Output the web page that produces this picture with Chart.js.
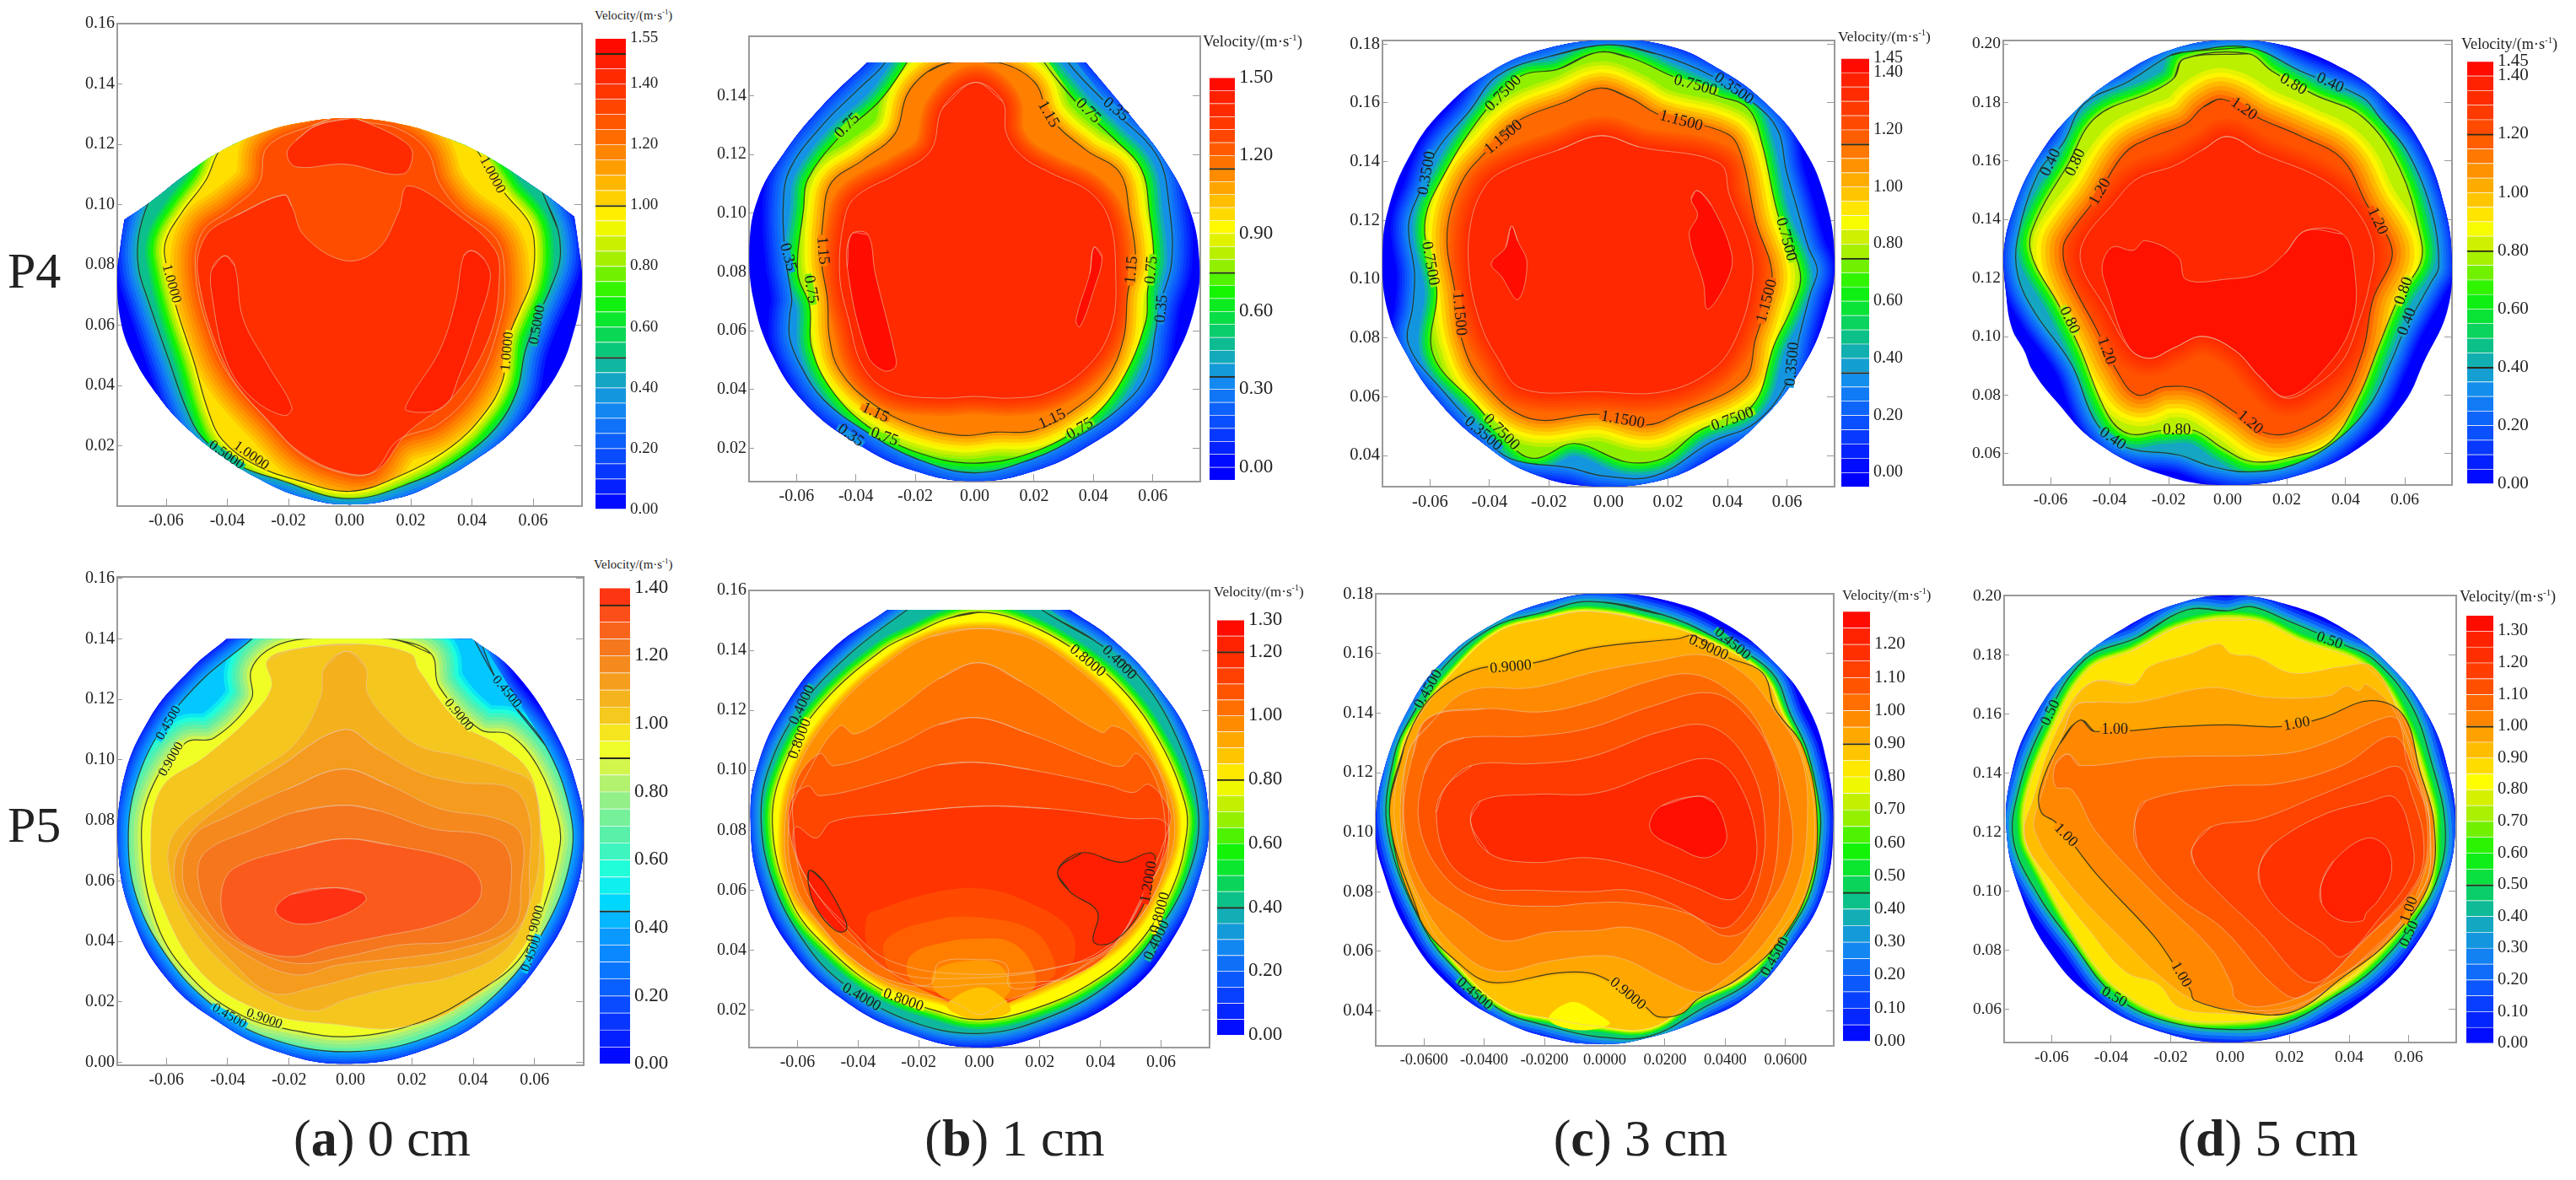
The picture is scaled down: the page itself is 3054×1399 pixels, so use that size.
<!DOCTYPE html>
<html>
<head>
<meta charset="utf-8">
<title>Velocity contours</title>
<script src="https://cdn.jsdelivr.net/npm/chart.js@4/dist/chart.umd.js"></script>
<style>
  body { margin: 0; background: #fff; width: 3054px; height: 1399px; overflow: hidden; position: relative; font-family: "Liberation Serif", serif; color: #222; }
  canvas { position: absolute; }
  .txt { position: absolute; white-space: nowrap; line-height: 1; }
</style>
</head>
<body>
<script>
// shared tick lists
const xTicks = [-0.06, -0.04, -0.02, 0, 0.02, 0.04, 0.06];
const yTicks016 = [0.02, 0.04, 0.06, 0.08, 0.10, 0.12, 0.14, 0.16];
const yTicks014 = [0.02, 0.04, 0.06, 0.08, 0.10, 0.12, 0.14];
const yTicks018 = [0.04, 0.06, 0.08, 0.10, 0.12, 0.14, 0.16, 0.18];
const yTicks020 = [0.06, 0.08, 0.10, 0.12, 0.14, 0.16, 0.18, 0.20];
const yTicks000 = [0, 0.02, 0.04, 0.06, 0.08, 0.10, 0.12, 0.14, 0.16];

// ---- (a) P4, 0 cm
const a4_edge = [[0,.1285],[.016,.1268],[.029,.123],[.043,.117],[.0627,.1043],[.0735,.096],[.0735,.096],[.0748,.087],[.076,.0765],[.0755,.0677],[.073,.0568],[.0695,.047],[.0627,.036],[.0534,.025],[.0427,.0164],[.0293,.0082],[.016,.0027],[0,.0005],[-.0148,.0027],[-.0282,.0082],[-.0416,.0164],[-.0536,.0262],[-.063,.037],[-.071,.05],[-.075,.062],[-.076,.0765],[-.075,.086],[-.0737,.095],[-.0737,.095],[-.065,.101],[-.0536,.11],[-.0416,.118],[-.028,.124],[-.0148,.1273]];
const a4_c050 = [[.0634,.1032],[.0681,.0918],[.0688,.0819],[.0661,.0732],[.0614,.0623],[.0574,.0513],[.0547,.0382],[.048,.0262],[.036,.0158],[.0226,.0087],[0,.0025],[-.0229,.0087],[-.0376,.0142],[-.0483,.0229],[-.0536,.0328],[-.059,.0481],[-.0657,.0677],[-.069,.0787],[-.069,.0896],[-.0657,.101],[-.055,.125],[0,.14],[.055,.125]];
const a4_c100 = [[.0427,.1163],[.0507,.1038],[.0587,.094],[.0605,.0852],[.0594,.0743],[.0554,.0645],[.052,.0557],[.05,.0415],[.044,.0306],[.0333,.0197],[.0159,.0098],[0,.0049],[-.0175,.0087],[-.0309,.0137],[-.0416,.0219],[-.0463,.0317],[-.051,.0481],[-.0563,.0645],[-.0597,.0787],[-.0603,.0874],[-.055,.0972],[-.047,.1081],[-.0429,.1174],[-.03,.135],[0,.14],[.03,.135]];
const a4_c130 = [[0,.13],[.0039,.1278],[.0159,.1251],[.0253,.118],[.0293,.1071],[.036,.0983],[.048,.0885],[.0507,.0765],[.0494,.0623],[.0413,.0404],[.0293,.0273],[.0159,.0219],[.0079,.0115],[0,.0104],[-.0148,.0164],[-.0256,.0273],[-.0389,.0426],[-.0456,.0568],[-.0503,.0765],[-.0483,.0907],[-.0389,.0983],[-.0296,.1071],[-.0269,.1191],[-.0122,.1262]];
const a4_c140 = [[-.0215,.1032],[-.0189,.0994],[-.0148,.0896],[-.0015,.0814],[.0092,.0852],[.0159,.0972],[.0193,.1062],[.036,.0961],[.0474,.0852],[.049,.0765],[.046,.0568],[.0346,.0371],[.0186,.024],[.0092,.012],[0,.0107],[-.0148,.0169],[-.0269,.0284],[-.0403,.0459],[-.0496,.0765],[-.047,.0896],[-.0376,.0961]];
const a4_topIsland = [[-.0108,.1262],[-.0175,.1213],[-.0205,.1169],[-.0175,.1125],[-.0015,.1134],[.0173,.1101],[.0206,.1169],[.0173,.1213],[.0052,.1273],[0,.1285]];
const a4_leftWing = [[-.0409,.083],[-.0376,.0797],[-.0349,.0623],[-.0269,.047],[-.0189,.0328],[-.0215,.03],[-.0322,.0361],[-.0403,.0481],[-.045,.0699],[-.045,.0787]];
const a4_rightWing = [[.04,.0847],[.044,.0819],[.046,.0754],[.0413,.059],[.036,.0437],[.0306,.0328],[.0186,.0317],[.0199,.0361],[.0293,.0513],[.0346,.0677],[.0373,.083]];
const a4_labels = [[.0467,.1098,62,'1.0000'],[-.0583,.0737,75,'1.0000'],[.0614,.0601,-80,'0.5000'],[.0516,.0513,-85,'1.0000'],[-.0403,.0169,35,'0.5000'],[-.0322,.0167,35,'1.0000']];
const a4_levels = [0,.05,.1,.15,.2,.25,.3,.35,.4,.45,.5,.55,.6,.65,.7,.75,.8,.85,.9,.95,1,1.05,1.1,1.15,1.2,1.25,1.3,1.35,1.4,1.45,1.5,1.55];
const a4_barTicks = [0,.2,.4,.6,.8,1,1.2,1.4,1.55];
const a4_barLines = [.5,1,1.5];

// ---- (b) P4, 1 cm
const b4_edge = [[-.0362,.1513],[-.0362,.1513],[.0375,.1513],[.0375,.1513],[.052,.1337],[.064,.118],[.0723,.1017],[.0757,.084],[.0743,.0686],[.067,.0498],[.0562,.0343],[.0388,.0211],[.0201,.0123],[0,.0089],[-.0201,.0123],[-.0388,.0211],[-.0562,.0343],[-.0683,.052],[-.075,.073],[-.0759,.0884],[-.073,.105],[-.0643,.1204],[-.0509,.137]];
const b4_c035 = [[.0315,.1513],[.0469,.1348],[.0616,.1193],[.0656,.1017],[.0663,.0829],[.0623,.0686],[.0609,.0597],[.0576,.0443],[.0482,.0332],[.0335,.0233],[.0201,.0167],[0,.0117],[-.0201,.0167],[-.0362,.0255],[-.0509,.0366],[-.0589,.0487],[-.0623,.0575],[-.0623,.0653],[-.0616,.0708],[-.0636,.084],[-.0645,.1017],[-.0623,.1149],[-.0509,.1304],[-.0388,.1425],[-.0301,.1513],[-.02,.17],[.02,.17]];
const b4_c075 = [[.0234,.1513],[.0348,.137],[.0469,.1254],[.0562,.1149],[.0589,.0995],[.0603,.084],[.0583,.0741],[.0576,.063],[.0496,.0432],[.0388,.0299],[.0214,.0194],[0,.015],[-.0201,.0189],[-.0362,.0277],[-.0482,.0399],[-.0549,.0542],[-.0556,.0686],[-.0596,.0796],[-.0576,.1017],[-.0562,.1116],[-.0455,.126],[-.0321,.1381],[-.0228,.1513],[-.012,.17],[.012,.17]];
const b4_c115 = [[-.008,.1513],[.008,.1513],[.0201,.1447],[.0254,.1326],[.0375,.1215],[.0489,.1138],[.0522,.0995],[.0542,.084],[.0516,.073],[.0502,.0575],[.0442,.0432],[.0335,.0332],[.0201,.0261],[.0067,.0255],[-.004,.0244],[-.0201,.0277],[-.0348,.0355],[-.0455,.0465],[-.0489,.0575],[-.0496,.0708],[-.0516,.084],[-.0509,.0995],[-.0482,.1105],[-.0375,.1182],[-.0268,.1271],[-.0228,.1403],[-.0161,.148]];
const b4_c135 = [[0,.1445],[.0094,.1381],[.0107,.1271],[.0161,.1193],[.0254,.1138],[.0388,.1072],[.0455,.0973],[.0475,.0796],[.0462,.0619],[.0388,.0487],[.0254,.0393],[.0121,.0371],[0,.0377],[-.0121,.0371],[-.0281,.0393],[-.0375,.0476],[-.0422,.063],[-.0455,.0796],[-.0435,.0995],[-.0395,.1061],[-.0254,.1138],[-.0147,.1215],[-.0107,.1359]];
const b4_leftIsland = [[-.0415,.0928],[-.036,.0928],[-.0335,.0796],[-.0268,.052],[-.0268,.0476],[-.0308,.0465],[-.0362,.052],[-.0429,.0818]];
const b4_rightIsland = [[.0402,.0884],[.0429,.0851],[.0402,.0741],[.0355,.0614],[.0341,.0636],[.0388,.0796]];
const b4_labels = [[-.0429,.1298,-45,'0.75'],[.0248,.1337,60,'1.15'],[.0382,.1348,45,'0.75'],[.0475,.1353,40,'0.35'],[-.0629,.0851,75,'0.35'],[-.0512,.0873,85,'1.15'],[-.0552,.0741,80,'0.75'],[.0529,.0807,-85,'1.15'],[.0596,.0807,-85,'0.75'],[.063,.0675,-85,'0.35'],[-.0335,.0321,25,'1.15'],[-.0304,.0239,20,'0.75'],[-.0418,.0244,35,'0.35'],[.0261,.0299,-25,'1.15'],[.0355,.0266,-30,'0.75']];
const b4_levels = [-.05,0,.05,.1,.15,.2,.25,.3,.35,.4,.45,.5,.55,.6,.65,.7,.75,.8,.85,.9,.95,1,1.05,1.1,1.15,1.2,1.25,1.3,1.35,1.4,1.45,1.5];
const b4_barTicks = [0,.3,.6,.9,1.2,1.5];
const b4_barLines = [.35,.75,1.15];

// ---- (c) P4, 3 cm
const c4_edge = [[0,.1813],[.021,.1791],[.0373,.1714],[.0523,.1604],[.0645,.1461],[.0726,.1284],[.076,.1064],[.0733,.0887],[.0645,.0689],[.0495,.0501],[.0346,.0391],[.017,.0314],[-.0034,.0294],[-.0251,.0336],[-.0428,.0446],[-.0577,.059],[-.0685,.0755],[-.0747,.0909],[-.076,.1064],[-.074,.124],[-.0658,.1439],[-.055,.1582],[-.04,.1703],[-.0224,.178]];
const c4_c035 = [[0,.1797],[.017,.1764],[.0346,.1692],[.0495,.1593],[.057,.1505],[.0597,.1372],[.0631,.1251],[.0672,.1108],[.0702,.1031],[.0679,.0953],[.0645,.0821],[.0604,.0656],[.0495,.0512],[.0346,.0446],[.0156,.0331],[-.002,.0331],[-.0129,.0358],[-.0333,.0391],[-.0428,.0479],[-.055,.0612],[-.0672,.0777],[-.0658,.0909],[-.0652,.102],[-.0672,.1185],[-.0631,.1306],[-.0577,.1439],[-.0468,.1571],[-.0373,.1692],[-.0197,.1758]];
const c4_c075 = [[-.0034,.1772],[.0075,.1753],[.021,.1692],[.036,.1626],[.0468,.1582],[.0516,.1461],[.057,.1218],[.0645,.102],[.0618,.0909],[.0557,.0777],[.0482,.0568],[.0305,.0485],[.0183,.0391],[.0061,.0378],[-.0115,.0441],[-.0238,.0391],[-.0305,.0413],[-.0441,.0568],[-.059,.0744],[-.0577,.0964],[-.0618,.1185],[-.055,.1361],[-.0407,.1582],[-.0292,.1692],[-.017,.1714]];
const c4_c115 = [[-.0027,.165],[.0075,.1615],[.017,.156],[.04,.1494],[.0448,.1417],[.0495,.1196],[.055,.102],[.0523,.0887],[.0495,.0799],[.0455,.0656],[.0238,.0546],[.0129,.0504],[-.0034,.054],[-.0265,.0526],[-.0428,.0656],[-.0495,.0799],[-.0516,.0953],[-.0543,.1152],[-.0495,.1328],[-.0407,.1439],[-.0305,.1538],[-.0143,.1604]];
const c4_c135 = [[-.0027,.1488],[.0102,.145],[.0373,.1394],[.0407,.1284],[.0475,.1108],[.0482,.0987],[.0428,.0799],[.0346,.0689],[.0183,.0617],[-.0034,.0617],[-.0292,.0628],[-.0373,.0733],[-.0428,.0843],[-.0468,.102],[-.0462,.1196],[-.0414,.1317],[-.0346,.1372],[-.017,.1439]];
const c4_leftIsland = [[-.0326,.118],[-.0305,.113],[-.0274,.1053],[-.0305,.0931],[-.036,.1009],[-.0394,.1053],[-.0346,.1108]];
const c4_rightIsland = [[.0299,.1301],[.0346,.1251],[.0414,.1086],[.04,.0998],[.0333,.0898],[.0319,.0987],[.0271,.1152],[.0299,.1218],[.0278,.1273]];
const c4_labels = [[-.0353,.1632,-45,'0.7500'],[-.0611,.1361,-80,'0.3500'],[.0292,.1659,15,'0.7500'],[.0421,.1648,35,'0.3500'],[-.0353,.1483,-40,'1.1500'],[.0244,.1538,15,'1.1500'],[.0597,.1135,75,'0.7500'],[-.06,.1053,80,'0.7500'],[-.0502,.0882,85,'1.1500'],[.0533,.0926,-75,'1.1500'],[.0618,.0711,-85,'0.3500'],[.0048,.0521,10,'1.1500'],[.0417,.0523,-20,'0.7500'],[-.036,.0479,45,'0.7500'],[-.0421,.0474,40,'0.3500']];
const c4_levels = [-.05,0,.05,.1,.15,.2,.25,.3,.35,.4,.45,.5,.55,.6,.65,.7,.75,.8,.85,.9,.95,1,1.05,1.1,1.15,1.2,1.25,1.3,1.35,1.4,1.45];
const c4_barTicks = [0,.2,.4,.6,.8,1,1.2,1.4,1.45];
const c4_barLines = [.35,.75,1.15];

// ---- (d) P4, 5 cm
const d4_edge = [[0,.2013],[.0194,.1995],[.0389,.1917],[.0528,.1817],[.0653,.1662],[.0736,.144],[.076,.124],[.0743,.1084],[.0667,.0918],[.0597,.0773],[.0458,.0629],[.025,.0529],[0,.0493],[-.0223,.0529],[-.0446,.064],[-.0585,.0784],[-.0661,.0884],[-.0689,.0951],[-.0731,.1029],[-.0751,.1151],[-.0759,.1284],[-.0724,.144],[-.064,.1617],[-.0515,.1773],[-.0362,.1895],[-.0181,.1984]];
const d4_c040 = [[-.014,.1973],[.0069,.1989],[.025,.1906],[.0458,.1817],[.0514,.175],[.0611,.1628],[.0694,.1417],[.0715,.124],[.0688,.1184],[.0597,.1018],[.0555,.0918],[.0486,.0773],[.0375,.0651],[.0222,.0562],[.0069,.0538],[-.0056,.0557],[-.0168,.0596],[-.0348,.0623],[-.0446,.0707],[-.0529,.0906],[-.0654,.1084],[-.071,.1206],[-.0713,.1329],[-.064,.1562],[-.0557,.1662],[-.0487,.1795],[-.0334,.1873],[-.0195,.1961]];
const d4_c080 = [[-.0147,.195],[.0069,.1967],[.0152,.1906],[.0291,.1828],[.0458,.175],[.0583,.1573],[.0653,.134],[.0653,.1251],[.0583,.114],[.0514,.0973],[.0444,.0795],[.0347,.064],[.0222,.059],[.0083,.0573],[-.0015,.0618],[-.0112,.0679],[-.0223,.0679],[-.0334,.0668],[-.0404,.0729],[-.0501,.0962],[-.0571,.1106],[-.0668,.1295],[-.064,.1417],[-.0543,.1584],[-.0446,.175],[-.0251,.1839],[-.0181,.1884]];
const d4_c120 = [[-.0015,.1811],[.011,.1745],[.025,.1684],[.0389,.1606],[.0472,.1451],[.0548,.1328],[.0555,.1262],[.0493,.1129],[.0458,.0951],[.0375,.0773],[.025,.0684],[.0138,.0668],[.0027,.074],[-.0098,.0818],[-.0209,.0829],[-.0307,.0801],[-.0376,.0884],[-.0446,.1029],[-.0543,.1217],[-.0557,.1306],[-.0529,.1362],[-.0446,.1473],[-.0348,.1628],[-.0251,.1684],[-.014,.1728],[-.0084,.1784]];
const d4_c133 = [[0,.1684],[.011,.1628],[.0319,.1539],[.043,.144],[.0493,.1306],[.0479,.1173],[.0444,.1051],[.0389,.0918],[.0291,.0829],[.0194,.079],[.011,.0862],[.0027,.0951],[-.0084,.1001],[-.0181,.0962],[-.0265,.0926],[-.0334,.0962],[-.0418,.1106],[-.0494,.124],[-.0487,.1329],[-.039,.1451],[-.0307,.1539],[-.0181,.1584],[-.0084,.1639]];
const d4_c140 = [[.0264,.1362],[.0389,.1351],[.043,.1229],[.0423,.1051],[.0333,.0895],[.0201,.0795],[.011,.0862],[.0027,.0951],[-.0084,.1001],[-.0181,.0962],[-.0265,.0926],[-.0334,.0962],[-.0404,.1151],[-.0425,.124],[-.039,.1306],[-.032,.1295],[-.0279,.1328],[-.0168,.1273],[-.014,.1195],[0,.1197],[.011,.1217],[.0194,.1284]];
const d4_labels = [[.0222,.1862,30,'0.80'],[.0347,.1867,25,'0.40'],[.0055,.1778,35,'1.20'],[-.0599,.1595,-65,'0.40'],[-.0515,.1595,-65,'0.80'],[-.0432,.1495,-60,'1.20'],[.0507,.1395,65,'1.20'],[.0597,.1156,-70,'0.80'],[.0608,.1051,-70,'0.40'],[-.0536,.1056,65,'0.80'],[-.0411,.0951,70,'1.20'],[.0076,.0707,40,'1.20'],[-.0172,.0679,0,'0.80'],[-.039,.0651,35,'0.40']];
const d4_levels = [0,.05,.1,.15,.2,.25,.3,.35,.4,.45,.5,.55,.6,.65,.7,.75,.8,.85,.9,.95,1,1.05,1.1,1.15,1.2,1.25,1.3,1.35,1.4,1.45];
const d4_barTicks = [0,.2,.4,.6,.8,1,1.2,1.4,1.45];
const d4_barLines = [.4,.8,1.2];

// ---- (a) P5, 0 cm
const a5_edge = [[-.0404,.14],[-.0404,.14],[.0396,.14],[.0396,.14],[.0529,.1296],[.0663,.11],[.0743,.0893],[.076,.0741],[.0729,.0545],[.0623,.0338],[.0463,.0163],[.0249,.0044],[0,-.0005],[-.0231,.0033],[-.0444,.0142],[-.0604,.0283],[-.0711,.0479],[-.0757,.0697],[-.0744,.0915],[-.0657,.1133],[-.0524,.1296]];
const a5_c045 = [[.0489,.1242],[.0636,.1046],[.0716,.0828],[.0716,.0664],[.0636,.0447],[.0489,.024],[.0289,.0098],[0,.0035],[-.0284,.0087],[-.0471,.0207],[-.0604,.0359],[-.0697,.0545],[-.0724,.0741],[-.0697,.0926],[-.0617,.11],[-.0484,.1264],[-.0324,.1397],[-.01,.16],[.03,.16]];
const a5_c090 = [[.0149,.1397],[.0263,.1351],[.0289,.1242],[.0423,.11],[.0516,.1084],[.0609,.098],[.0676,.0806],[.0683,.0719],[.0636,.0534],[.0556,.0349],[.0409,.0229],[.0223,.0131],[0,.0085],[-.0204,.0109],[-.0351,.0153],[-.0511,.0272],[-.0631,.0458],[-.0681,.0741],[-.0644,.0915],[-.0537,.1057],[-.0444,.1073],[-.0324,.1198],[-.0324,.1296],[-.0271,.1362],[-.0177,.1397],[0,.1405]];
const a5_c100 = [[-.0177,.1367],[-.0271,.1329],[-.0257,.1242],[-.0324,.1144],[-.0471,.1013],[-.0617,.0904],[-.0651,.0697],[-.0624,.0545],[-.0484,.0294],[-.0271,.0163],[-.0044,.0125],[.0156,.0114],[.0356,.0185],[.0556,.037],[.0629,.0588],[.0616,.0806],[.0583,.0959],[.0489,.1046],[.0356,.1122],[.0223,.1296],[.0196,.1351],[.0023,.1383]];
const a5_c105 = [[-.0011,.1359],[.0049,.1307],[.0056,.122],[.0129,.1122],[.0223,.1046],[.0356,.1013],[.0503,.097],[.0596,.0915],[.0616,.0697],[.0583,.0523],[.0503,.037],[.0329,.0283],[.0156,.0251],[-.0017,.0207],[-.0124,.0169],[-.0271,.0218],[-.0417,.0327],[-.0537,.0479],[-.0591,.0632],[-.0577,.0752],[-.0444,.0871],[-.0311,.0959],[-.0177,.1057],[-.0097,.1209],[-.0084,.1307]];
const a5_c110 = [[-.0024,.11],[.0089,.1035],[.0223,.0959],[.0356,.0926],[.0529,.0904],[.0583,.0806],[.0583,.0643],[.0569,.0479],[.0463,.0381],[.0289,.0327],[.0089,.03],[-.011,.025],[-.0257,.0229],[-.0391,.0338],[-.0511,.0479],[-.0571,.0588],[-.0551,.0719],[-.0404,.0861],[-.0244,.097]];
const a5_c115 = [[-.0024,.097],[.0129,.0915],[.0289,.0839],[.0476,.0806],[.0556,.0752],[.0556,.0588],[.0529,.0447],[.0356,.0376],[.0196,.0349],[-.0044,.0321],[-.0177,.0289],[-.0337,.0354],[-.0471,.0468],[-.0544,.0588],[-.0517,.0741],[-.0391,.0817],[-.0204,.0904]];
const a5_c120 = [[-.0024,.085],[.0089,.0833],[.0263,.0773],[.0436,.0752],[.0509,.0708],[.0523,.0588],[.0489,.0468],[.0356,.0403],[.0156,.0387],[-.0017,.0349],[-.0177,.0327],[-.0337,.0381],[-.0444,.0468],[-.0497,.061],[-.0471,.0697],[-.0311,.0773],[-.0177,.0828]];
const a5_c127 = [[-.0024,.0739],[.0129,.0719],[.0356,.0664],[.0423,.0599],[.0409,.0523],[.0289,.0458],[.0089,.0414],[-.0071,.0381],[-.0191,.0349],[-.0324,.0381],[-.0404,.0458],[-.042,.0566],[-.0377,.0643],[-.0177,.0708]];
const a5_c134 = [[-.0057,.0577],[.0036,.0561],[.0049,.0534],[-.0044,.0479],[-.0177,.0458],[-.0244,.0501],[-.0191,.0556]];
const a5_labels = [[-.0593,.1122,-60,'0.4500'],[-.0584,.1002,-60,'0.9000'],[.0509,.1225,50,'0.4500'],[.0353,.1149,50,'0.9000'],[.0603,.0458,-75,'0.9000'],[.0589,.0359,-70,'0.4500'],[-.0395,.0153,30,'0.4500'],[-.0281,.0144,20,'0.9000']];
const a5_levels = [0,.05,.1,.15,.2,.25,.3,.35,.4,.45,.5,.55,.6,.65,.7,.75,.8,.85,.9,.95,1,1.05,1.1,1.15,1.2,1.25,1.3,1.35,1.4];
const a5_barTicks = [0,.2,.4,.6,.8,1,1.2,1.4];
const a5_barLines = [.45,.9,1.35];

// ---- (b) P5, 1 cm
const b5_edge = [[-.0304,.1535],[-.0304,.1535],[.0299,.1535],[.0299,.1535],[.0442,.1435],[.0586,.1283],[.0704,.1088],[.0757,.085],[.0731,.0655],[.0626,.0417],[.0469,.0243],[.0233,.0124],[0,.0075],[-.0238,.0124],[-.0461,.0243],[-.0631,.0417],[-.0723,.0612],[-.0755,.0828],[-.0729,.1023],[-.0631,.1229],[-.0487,.1403]];
const b5_c040 = [[.0207,.1535],[.0377,.1435],[.0534,.1305],[.0665,.1078],[.0724,.085],[.0691,.0655],[.0586,.046],[.0442,.0298],[.0233,.0178],[0,.0122],[-.0238,.0167],[-.0461,.0298],[-.0592,.0449],[-.0683,.0633],[-.072,.0828],[-.0696,.1002],[-.0592,.1208],[-.0435,.1381],[-.0238,.1535],[0,.17]];
const b5_c080 = [[-.0107,.1505],[0,.1527],[.0115,.1505],[.0298,.1413],[.0469,.1273],[.0599,.1088],[.0678,.0893],[.0685,.0796],[.0639,.0612],[.0521,.0417],[.0364,.0287],[.0168,.02],[0,.0168],[-.0134,.0195],[-.0317,.0265],[-.0487,.0395],[-.0618,.0558],[-.0683,.0828],[-.0631,.1045],[-.0513,.1229],[-.0317,.1403],[-.0212,.1457]];
const b5_c095 = [[0,.1473],[.0141,.1451],[.0298,.1359],[.0482,.1186],[.0613,.0958],[.0645,.0807],[.0613,.0666],[.0495,.046],[.0338,.0341],[.0181,.0265],[.0076,.0225],[0,.0185],[-.0081,.0225],[-.0291,.0287],[-.0421,.0373],[-.0526,.0482],[-.0618,.0612],[-.0641,.0828],[-.0592,.1023],[-.0461,.1218],[-.0291,.137],[-.016,.1446]];
const b5_c100 = [[0,.1359],[.0141,.1294],[.0403,.1126],[.0442,.1148],[.0508,.111],[.0599,.098],[.0626,.0828],[.0606,.0655],[.0508,.0482],[.0364,.0363],[.0233,.0292],[.0102,.0276],[.0089,.0352],[0,.0368],[-.0134,.0357],[-.016,.0287],[-.0291,.0298],[-.0421,.0373],[-.0513,.0471],[-.0605,.0612],[-.0628,.0828],[-.0566,.0991],[-.0461,.1148],[-.0408,.1121],[-.0264,.1208],[-.0134,.1305]];
const b5_c105 = [[0,.1175],[.0168,.1121],[.0416,.1023],[.0475,.1015],[.0521,.1056],[.0586,.0958],[.0613,.0828],[.0606,.072],[.056,.0612],[.0429,.0395],[.0298,.0308],[.0233,.0297],[0,.0287],[-.0212,.0287],[-.0395,.0406],[-.0501,.0493],[-.0579,.0612],[-.0611,.0785],[-.0605,.0958],[-.0526,.1056],[-.048,.1015],[-.0264,.1088],[-.0134,.1153]];
const b5_c110 = [[0,.1026],[.0168,.1002],[.0429,.0948],[.0508,.0926],[.056,.0953],[.0626,.0872],[.0626,.0807],[.0495,.0493],[.0429,.0417],[.0298,.0352],[0,.0308],[-.0291,.033],[-.0421,.0449],[-.0553,.0612],[-.0618,.0753],[-.0624,.0893],[-.0566,.0948],[-.0526,.0915],[-.0291,.0969],[-.0134,.1018]];
const b5_c115 = [[0,.088],[.0233,.0872],[.0495,.0839],[.0613,.0828],[.0619,.0742],[.056,.0612],[.0442,.0417],[.0298,.0352],[0,.0319],[-.0291,.0363],[-.0448,.0493],[-.0553,.0612],[-.0611,.0742],[-.0605,.0812],[-.0539,.0774],[-.0487,.0828],[-.0291,.0855]];
const b5_humpA = [[-.0369,.0411],[-.0369,.0514],[-.033,.0536],[-.016,.059],[0,.0606],[.0141,.0569],[.0298,.0471],[.0305,.0352],[.0181,.0265],[0,.0205],[-.0181,.0265],[-.032,.0352]];
const b5_humpB = [[-.0304,.0346],[-.0304,.0438],[-.0134,.0503],[0,.0509],[.0168,.0471],[.024,.0384],[.024,.0308],[0,.0254],[-.0238,.0287]];
const b5_humpC = [[-.0232,.0308],[-.0225,.0384],[-.0107,.0428],[0,.0438],[.0102,.0428],[.0174,.0352],[.0174,.0265],[0,.0233],[-.016,.0265]];
const b5_humpD = [[-.0153,.0276],[-.0147,.033],[-.0055,.0363],[.0063,.0352],[.0102,.0265],[0,.0211],[-.0107,.0238]];
const b5_humpE = [[-.0107,.022],[0,.0276],[.0076,.0243],[.0102,.0195],[0,.017],[-.0081,.019]];
const b5_leftIsland = [[-.0559,.0666],[-.0513,.0628],[-.0441,.0498],[-.0441,.0465],[-.0474,.0465],[-.0539,.0541],[-.0565,.0628]];
const b5_rightIsland = [[.0259,.0666],[.0338,.0725],[.0469,.0693],[.056,.0725],[.0581,.0709],[.0535,.0536],[.0442,.0428],[.0377,.0428],[.039,.0528],[.0298,.0596]];
const b5_labels = [[.0462,.1359,45,'0.4000'],[.0357,.1365,40,'0.8000'],[-.0585,.1218,-65,'0.4000'],[-.0592,.1105,-70,'0.8000'],[.056,.0628,-80,'1.2000'],[.0597,.0525,-75,'0.8000'],[.0586,.0433,-65,'0.4000'],[-.0389,.0243,30,'0.4000'],[-.0251,.0233,20,'0.8000']];
const b5_levels = [0,.05,.1,.15,.2,.25,.3,.35,.4,.45,.5,.55,.6,.65,.7,.75,.8,.85,.9,.95,1,1.05,1.1,1.15,1.2,1.25,1.3];
const b5_barTicks = [0,.2,.4,.6,.8,1,1.2,1.3];
const b5_barLines = [.4,.8,1.2];

// ---- (c) P5, 3 cm
const c5_edge = [[0,.1802],[.0217,.1775],[.0404,.1698],[.0565,.1568],[.0672,.1426],[.0738,.123],[.0758,.1012],[.0725,.0794],[.0618,.0609],[.0471,.0446],[.0297,.0359],[.0123,.0304],[0,.0288],[-.0158,.0304],[-.0345,.0369],[-.0519,.0489],[-.0653,.0664],[-.0733,.086],[-.076,.1001],[-.0733,.1208],[-.0639,.1437],[-.0532,.1579],[-.0372,.1698],[-.0185,.1775]];
const c5_c045 = [[-.0051,.1775],[.019,.1731],[.0364,.1655],[.0551,.154],[.0618,.1393],[.0672,.1274],[.0714,.1078],[.0714,.098],[.0685,.0805],[.0618,.0675],[.0498,.0511],[.0324,.0408],[.015,.0315],[-.0024,.0313],[-.0185,.0348],[-.0345,.0402],[-.0479,.0522],[-.0599,.0675],[-.072,.1001],[-.07,.1252],[-.0639,.1393],[-.0532,.1557],[-.0372,.1688],[-.0211,.1737]];
const c5_c085 = [[-.0051,.1742],[.019,.1698],[.0364,.1633],[.0524,.153],[.0591,.1393],[.0658,.1252],[.0696,.1056],[.0672,.0816],[.0591,.0675],[.0471,.0522],[.0297,.0435],[.015,.0342],[-.0024,.0348],[-.0185,.0375],[-.0332,.0413],[-.0479,.0544],[-.0586,.0696],[-.0693,.1001],[-.0673,.1274],[-.0613,.1393],[-.0506,.1535],[-.0358,.1671],[-.0211,.1715]];
const c5_c090 = [[-.0713,.1045],[-.0666,.1285],[-.0599,.1426],[-.0519,.1502],[-.0412,.1551],[-.0238,.1568],[-.0037,.162],[.0244,.165],[.0297,.166],[.0404,.159],[.0524,.1535],[.0565,.1415],[.0658,.1285],[.0705,.1045],[.0678,.0816],[.0578,.0631],[.0431,.05],[.031,.044],[.0257,.0391],[.0177,.038],[.0136,.0413],[.0016,.05],[-.0051,.0527],[-.0158,.0527],[-.0372,.0495],[-.0479,.0555],[-.0613,.0707]];
const c5_c095 = [[-.0653,.1263],[-.0572,.1372],[-.0452,.1475],[-.0238,.1486],[-.0024,.1541],[.0163,.1574],[.033,.1595],[.0458,.1535],[.0551,.1426],[.0652,.1252],[.0672,.1034],[.0638,.0816],[.0524,.062],[.0391,.05],[.0317,.0462],[.019,.0511],[.007,.0571],[-.0024,.0585],[-.0185,.0566],[-.0358,.0533],[-.0479,.0598],[-.0599,.0751],[-.0673,.0969]];
const c5_c100 = [[-.0586,.1383],[-.0399,.1415],[-.0211,.1404],[-.0051,.1437],[.015,.1508],[.0297,.153],[.0431,.1459],[.0524,.1339],[.0618,.1056],[.0605,.0871],[.0511,.0707],[.0404,.0571],[.0351,.056],[.0217,.0636],[.0083,.068],[-.0037,.0669],[-.0185,.0664],[-.0345,.0636],[-.0479,.0718],[-.0599,.0816],[-.0666,.1034],[-.0639,.1252]];
const c5_c105 = [[-.0546,.1285],[-.0466,.1317],[-.0238,.1323],[-.0051,.135],[.015,.1421],[.0351,.1468],[.0471,.1393],[.0565,.123],[.0578,.1034],[.0551,.0816],[.0471,.0675],[.0391,.0653],[.0284,.0724],[.0083,.0762],[-.0051,.0762],[-.0185,.0751],[-.0385,.0767],[-.0519,.0838],[-.0613,.1012],[-.0599,.1197]];
const c5_c110 = [[-.0526,.1154],[-.0439,.1225],[-.0238,.123],[-.0051,.1252],[.019,.1339],[.0351,.1355],[.0471,.1241],[.0531,.1034],[.0504,.0816],[.0431,.0696],[.0377,.068],[.0217,.0762],[.0083,.0805],[-.0051,.08],[-.0238,.0805],[-.0399,.0816],[-.0519,.0903],[-.0559,.1067]];
const c5_c120 = [[-.0445,.1034],[-.0412,.1105],[-.0238,.1127],[-.0024,.1132],[.019,.1208],[.0351,.1246],[.0444,.1165],[.0504,.0969],[.0478,.0827],[.0418,.0773],[.0297,.0816],[.015,.0871],[-.0051,.0914],[-.0238,.0898],[-.0385,.093]];
const c5_c127 = [[.031,.1121],[.0364,.1099],[.0404,.1001],[.0391,.0947],[.033,.0914],[.0244,.0947],[.0163,.0991],[.015,.1034],[.019,.1089]];
const c5_yellow = [[-.0185,.0372],[-.011,.0429],[-.0024,.039],[.0016,.0355],[-.0091,.0335]];
const c5_labels = [[-.0586,.1481,-60,'0.4500'],[-.0312,.1555,-5,'0.9000'],[.0344,.162,25,'0.9000'],[.0424,.1633,40,'0.4500'],[.0565,.0582,-60,'0.4500'],[.0076,.0457,40,'0.9000'],[-.0432,.0457,40,'0.4500']];
const c5_xTicks = [-0.06, -0.04, -0.02, 0, 0.02, 0.04, 0.06];
const c5_levels = [0,.05,.1,.15,.2,.25,.3,.35,.4,.45,.5,.55,.6,.65,.7,.75,.8,.85,.9,.95,1,1.05,1.1,1.15,1.2,1.25,1.3];
const c5_barTicks = [0,.1,.2,.3,.4,.5,.6,.7,.8,.9,1,1.1,1.2];
const c5_barLines = [.45,.9];

// ---- (d) P5, 5 cm
const d5_edge = [[0,.2002],[.0197,.1969],[.0376,.1892],[.0541,.176],[.0664,.1596],[.0733,.1409],[.0757,.1211],[.0719,.1014],[.0623,.0816],[.0472,.0652],[.0279,.0542],[0,.0487],[-.0257,.0531],[-.0464,.0641],[-.0615,.0805],[-.0704,.0992],[-.0752,.12],[-.0732,.1409],[-.0656,.1596],[-.0532,.176],[-.0354,.1892],[-.0175,.1974]];
const d5_c050 = [[-.0147,.1952],[-.001,.1949],[.0073,.1963],[.0197,.1914],[.0376,.1837],[.0486,.1782],[.0609,.1629],[.0678,.1431],[.0722,.1233],[.0706,.1069],[.0623,.0904],[.0486,.0739],[.0348,.0641],[.0183,.0553],[.0004,.0531],[-.023,.0564],[-.0395,.0652],[-.0532,.0827],[-.0642,.0981],[-.0728,.1168],[-.0711,.1343],[-.0629,.1563],[-.0491,.1782],[-.0312,.1859]];
const d5_c085 = [[-.0147,.1903],[.0073,.1919],[.0238,.1848],[.0458,.176],[.0582,.1585],[.0671,.1321],[.0685,.1233],[.0671,.1025],[.0609,.0926],[.0458,.075],[.0307,.0641],[.0169,.058],[.0004,.0558],[-.0175,.0569],[-.0354,.0652],[-.0477,.0783],[-.067,.1124],[-.0691,.1189],[-.0684,.1321],[-.0601,.1541],[-.0477,.1749],[-.0326,.1815]];
const d5_c090 = [[-.047,.1705],[-.0326,.17],[-.0271,.176],[-.0133,.1804],[-.0037,.1837],[.0004,.1804],[.0087,.1793],[.021,.1738],[.0376,.176],[.0479,.176],[.0568,.1596],[.0657,.1321],[.0671,.12],[.0657,.1025],[.0458,.0761],[.0307,.0652],[.0169,.0591],[-.0037,.0586],[-.0175,.0608],[-.0243,.0685],[-.0354,.0728],[-.0477,.0871],[-.0587,.1014],[-.0691,.1179],[-.0663,.131],[-.0574,.1563]];
const d5_c095 = [[-.0519,.1629],[-.045,.164],[-.0312,.164],[-.0065,.1689],[.0128,.1656],[.0334,.1662],[.0389,.1694],[.0431,.1678],[.0458,.17],[.0554,.1607],[.0637,.1365],[.0671,.1233],[.0651,.1014],[.0458,.0783],[.0238,.0619],[.0018,.0597],[-.012,.063],[-.023,.0706],[-.0354,.0827],[-.0532,.1014],[-.0656,.12],[-.064,.131],[-.056,.1541]];
const d5_c100 = [[-.0505,.1579],[-.0457,.1541],[-.0175,.1557],[-.001,.1563],[.0169,.1557],[.0307,.1585],[.0472,.1645],[.0582,.1596],[.0637,.1409],[.0685,.1233],[.0671,.103],[.0541,.0838],[.0376,.0706],[.021,.0591],[.0032,.0591],[-.012,.063],[-.0133,.0663],[-.0188,.075],[-.0257,.0849],[-.045,.1058],[-.0587,.1233],[-.0635,.1266],[-.064,.1343],[-.0574,.1497]];
const d5_c105 = [[-.0546,.1464],[-.0505,.1425],[-.0243,.1453],[.0169,.1464],[.0307,.1497],[.0527,.159],[.0568,.1574],[.0596,.1431],[.0671,.1233],[.0637,.1014],[.0513,.0827],[.0279,.0663],[.01,.0608],[.0018,.0635],[.0004,.0685],[-.0065,.0805],[-.0257,.0992],[-.045,.12],[-.0532,.1343],[-.0587,.1354],[-.0587,.1431]];
const d5_c110 = [[-.0319,.1244],[-.0285,.1305],[-.0037,.1354],[.0169,.1365],[.0376,.1425],[.0547,.1524],[.0616,.1409],[.0664,.1211],[.063,.1025],[.0444,.0827],[.0238,.0641],[.0142,.0685],[-.0023,.0871],[-.0175,.0981],[-.0312,.1146]];
const d5_c115 = [[-.0127,.1146],[-.0065,.1217],[.01,.1244],[.0307,.1327],[.0472,.1393],[.0568,.142],[.0609,.1332],[.0651,.1168],[.0623,.1025],[.0444,.0827],[.0307,.0696],[.0238,.0706],[.01,.086],[-.0037,.0992],[-.012,.1091]];
const d5_c120 = [[.01,.1091],[.0142,.1157],[.0307,.1256],[.0458,.13],[.0554,.1316],[.0609,.1179],[.0609,.1058],[.0499,.0904],[.0376,.0778],[.0307,.0827],[.0169,.0926],[.01,.1025]];
const d5_c127 = [[.0307,.1025],[.0348,.1102],[.0458,.1179],[.0527,.1146],[.0541,.1058],[.0499,.097],[.0458,.0926],[.0444,.0899],[.0362,.0904],[.0307,.0959]];
const d5_labels = [[.0334,.1848,20,'0.50'],[-.0604,.1604,-65,'0.50'],[-.0388,.1546,0,'1.00'],[.0224,.1566,-10,'1.00'],[-.0553,.1189,45,'1.00'],[-.0165,.0717,60,'1.00'],[.0602,.0937,-70,'1.00'],[.0602,.0855,-65,'0.50'],[-.039,.0641,30,'0.50']];
const d5_levels = [0,.05,.1,.15,.2,.25,.3,.35,.4,.45,.5,.55,.6,.65,.7,.75,.8,.85,.9,.95,1,1.05,1.1,1.15,1.2,1.25,1.3,1.35];
const d5_barTicks = [0,.1,.2,.3,.4,.5,.6,.7,.8,.9,1,1.1,1.2,1.3];
const d5_barLines = [.5,1];

// colour ramps, position along the bar -> rgb
const rainbow = [[0,[0,0,255]],[.12,[10,80,255]],[.22,[20,140,240]],[.28,[20,168,192]],[.34,[10,200,120]],[.4,[10,230,50]],[.45,[20,245,0]],[.52,[150,240,0]],[.58,[220,240,0]],[.61,[255,255,0]],[.67,[255,200,0]],[.73,[255,155,0]],[.77,[255,125,0]],[.8,[255,100,0]],[.84,[255,76,0]],[.9,[255,48,0]],[.95,[255,32,0]],[1,[255,0,0]]];
const softRamp = [[0,[0,0,255]],[.1,[10,60,255]],[.2,[10,120,255]],[.28,[10,160,255]],[.34,[0,216,255]],[.4,[26,255,224]],[.47,[80,240,176]],[.57,[160,240,128]],[.64,[224,248,64]],[.67,[245,255,32]],[.72,[245,208,30]],[.79,[245,165,30]],[.86,[245,128,30]],[.93,[250,90,28]],[1,[255,40,16]]];

function rampColor(ramp, t) {
  t = Math.min(1, Math.max(0, t));
  for (let i = 1; i < ramp.length; i++) {
    if (t <= ramp[i][0]) {
      const a = ramp[i - 1], b = ramp[i], f = (t - a[0]) / (b[0] - a[0]);
      const c = a[1].map((v, k) => Math.round(v + (b[1][k] - v) * f));
      return `rgb(${c[0]},${c[1]},${c[2]})`;
    }
  }
  return 'rgb(255,0,0)';
}

// the eight panels: [points, level, fade px, line colour key]
const panels = [
  { box:[139,22,690,600], yr:[0,.16], yTicks:yTicks016, edge:a4_edge, vmax:1.55, ramp:rainbow, font:20, labelFont:17, labels:a4_labels,
    contours:[[a4_c050,.5,30,'k'],[a4_c100,1,26,'k'],[a4_c130,1.3,34,'g'],[a4_c140,1.4,0,'g'],[a4_topIsland,1.42,0,'g'],[a4_leftWing,1.47,0,'g'],[a4_rightWing,1.47,0,'g']],
    bar:[706,742,45,604], levels:a4_levels, barTicks:a4_barTicks, barLines:a4_barLines, barFont:19 },
  { box:[887.5,37,1422.6,571], yr:[.0087,.1602], yTicks:yTicks014, edge:b4_edge, vmax:1.5, ramp:rainbow, font:20, labelFont:19, labels:b4_labels,
    contours:[[b4_c035,.35,28,'k'],[b4_c075,.75,20,'k'],[b4_c115,1.15,32,'k'],[b4_c135,1.38,24,'g'],[b4_leftIsland,1.47,0,'g'],[b4_rightIsland,1.47,0,'g']],
    bar:[1434.4,1464.6,89,572], levels:b4_levels, barTicks:b4_barTicks, barLines:b4_barLines, barFont:23 },
  { box:[1638.5,42,2174.4,577], yr:[.0294,.1811], yTicks:yTicks018, edge:c4_edge, vmax:1.45, ramp:rainbow, font:20.5, labelFont:19, labels:c4_labels,
    contours:[[c4_c035,.35,24,'k'],[c4_c075,.75,18,'k'],[c4_c115,1.15,36,'k'],[c4_c135,1.34,26,'g'],[c4_leftIsland,1.42,0,'g'],[c4_rightIsland,1.42,0,'g']],
    bar:[2183,2215.6,68.4,578], levels:c4_levels, barTicks:c4_barTicks, barLines:c4_barLines, barFont:20 },
  { box:[2375,42,2907.4,575], yr:[.0493,.2013], yTicks:yTicks020, edge:d4_edge, vmax:1.45, ramp:rainbow, font:19.5, labelFont:19, labels:d4_labels,
    contours:[[d4_c040,.4,24,'k'],[d4_c080,.8,20,'k'],[d4_c120,1.2,42,'k'],[d4_c133,1.34,24,'g'],[d4_c140,1.41,0,'g']],
    bar:[2925,2956,71,575], levels:d4_levels, barTicks:d4_barTicks, barLines:d4_barLines, barFont:21 },
  { box:[138.5,678,691.6,1263], yr:[-.001,.1605], yTicks:yTicks000, edge:a5_edge, vmax:1.4, ramp:softRamp, font:20, labelFont:16, labels:a5_labels,
    contours:[[a5_c045,.45,24,'k'],[a5_c090,.93,36,'k'],[a5_c100,1.03,0,'g'],[a5_c105,1.08,0,'g'],[a5_c110,1.13,0,'g'],[a5_c115,1.18,0,'g'],[a5_c120,1.23,0,'g'],[a5_c127,1.3,0,'g'],[a5_c134,1.38,0,'g']],
    bar:[711,747,693.5,1263.7], levels:a5_levels, barTicks:a5_barTicks, barLines:a5_barLines, barFont:23 },
  { box:[887.5,694,1433.5,1242], yr:[.0075,.16], yTicks:yTicks016, edge:b5_edge, vmax:1.3, ramp:rainbow, font:20, labelFont:18, labels:b5_labels,
    contours:[[b5_c040,.4,22,'k'],[b5_c080,.8,14,'k'],[b5_c095,.97,10,'g'],[b5_c100,1.02,0,'g'],[b5_c105,1.06,0,'g'],[b5_c110,1.11,0,'g'],[b5_c115,1.16,0,'g'],[b5_humpA,1.1,0,'n'],[b5_humpB,1.05,0,'n'],[b5_humpC,1,0,'n'],[b5_humpD,.95,0,'n'],[b5_humpE,.88,0,'n'],[b5_leftIsland,1.24,0,'k'],[b5_rightIsland,1.24,0,'k']],
    bar:[1443,1474.5,732,1230], levels:b5_levels, barTicks:b5_barTicks, barLines:b5_barLines, barFont:23 },
  { box:[1631.3,698,2174.4,1240], yr:[.0282,.18], yTicks:yTicks018, xTicks:c5_xTicks, xFmt:4, edge:c5_edge, vmax:1.3, ramp:rainbow, font:18.5, yFont:20.5, labelFont:18, labels:c5_labels,
    contours:[[c5_c045,.45,18,'k'],[c5_c085,.88,8,'g'],[c5_c090,.93,4,'k'],[c5_c095,.98,0,'g'],[c5_c100,1.03,0,'g'],[c5_c105,1.08,0,'g'],[c5_c110,1.14,0,'g'],[c5_c120,1.2,0,'g'],[c5_c127,1.27,0,'g'],[c5_yellow,.8,0,'n']],
    bar:[2185,2216.5,723,1236], levels:c5_levels, barTicks:c5_barTicks, barLines:c5_barLines, barFont:21 },
  { box:[2375.8,700,2912,1236], yr:[.0487,.2002], yTicks:yTicks020, edge:d5_edge, vmax:1.35, ramp:rainbow, font:19.5, labelFont:18, labels:d5_labels,
    contours:[[d5_c050,.5,20,'k'],[d5_c085,.86,10,'g'],[d5_c090,.92,0,'g'],[d5_c095,.97,0,'g'],[d5_c100,1.02,0,'k'],[d5_c105,1.06,0,'g'],[d5_c110,1.11,0,'g'],[d5_c115,1.16,0,'g'],[d5_c120,1.21,0,'g'],[d5_c127,1.28,0,'g']],
    bar:[2923.5,2955,728,1238], levels:d5_levels, barTicks:d5_barTicks, barLines:d5_barLines, barFont:20.5 }
];

const velocityTitles = [[705,18,14.7],[1426,49,18.8],[2179,44,17.5],[2918,52,18.2],[704,669,14.9],[1439,701,17],[2184,706,16.8],[2916,707,18.2]];
const captions = [['a',' 0 cm',453],['b',' 1 cm',1203],['c',' 3 cm',1945],['d',' 5 cm',2689]];

// clip a polygon layer to the domain edge, and a fade stroke to the contour before it.
// has to run before the filler, see the re-registration below
const polyClip = {
  id: 'polyClip',
  beforeDatasetDraw(chart, args) {
    const ds = chart.data.datasets[args.index];
    if (!ds.polygon) return;
    const ctx = chart.ctx;
    ctx.save();
    [ds.clipEdge ? 0 : null, ds.clipTo].forEach(i => {
      if (i === null || i === undefined || i === args.index) return;
      const el = chart.getDatasetMeta(i).dataset;
      el.updateControlPoints(chart.chartArea, 'x');
      ctx.beginPath();
      el.path(ctx);
      ctx.closePath();
      ctx.clip();
    });
  },
  afterDatasetDraw(chart, args) {
    if (chart.data.datasets[args.index].polygon) chart.ctx.restore();
  }
};
const fillerPlugin = Chart.registry.plugins.get('filler');
Chart.unregister(fillerPlugin);
Chart.register(polyClip, fillerPlugin);

const contourLabels = {
  id: 'contourLabels',
  afterDatasetsDraw(chart) {
    const p = chart.config.options.panel;
    const ctx = chart.ctx;
    ctx.save();
    ctx.font = `${p.labelFont}px "Liberation Serif"`;
    ctx.textAlign = 'center';
    ctx.textBaseline = 'middle';
    p.labels.forEach(([x, y, angle, text]) => {
      const w = ctx.measureText(text).width;
      ctx.save();
      ctx.translate(chart.scales.x.getPixelForValue(x), chart.scales.y.getPixelForValue(y));
      ctx.rotate(angle * Math.PI / 180);
      ctx.fillStyle = rampColor(p.ramp, parseFloat(text) / p.vmax);
      ctx.fillRect(-w / 2 - 2, -4, w + 4, 8);
      ctx.fillStyle = '#1a1a1a';
      ctx.fillText(text, 0, 0);
      ctx.restore();
    });
    ctx.restore();
  }
};

// overlap the seam by one point each way so the spline stays smooth there
function closed(pts) { return [pts[pts.length - 1], ...pts, pts[0], pts[1]]; }

function buildLayers(p) {
  const out = [];
  const col = v => rampColor(p.ramp, v / p.vmax);
  const add = o => out.push(Object.assign({ polygon:true, clipEdge:true, showLine:true, pointRadius:0, tension:.38, borderJoinStyle:'round', borderWidth:0 }, o)) - 1;
  add({ data:closed(p.edge), fill:'shape', backgroundColor:col(0), tension:.42 });
  let prevIdx = 0, prevLv = 0;
  p.contours.forEach(([pts, lv, fade]) => {
    const steps = fade > 20 ? 8 : 5;
    if (fade > 0) {
      for (let k = 0; k < steps; k++) {
        add({ data:closed(pts), borderWidth:2 * fade * (1 - k / steps), borderColor:col(prevLv + (lv - prevLv) * k / steps), clipTo:prevIdx });
      }
    }
    prevIdx = add({ data:closed(pts), fill:'shape', backgroundColor:col(lv) });
    prevLv = lv;
  });
  p.contours.forEach(([pts, lv, fade, key]) => {
    if (key === 'n') return;
    add({ data:closed(pts), borderWidth:key === 'k' ? 1.2 : 1, borderColor:key === 'k' ? 'rgba(40,50,30,.9)' : 'rgba(232,200,170,.6)' });
  });
  out.forEach((d, i) => { d.order = out.length - i; });
  return out;
}

const axisGray = '#9a9a9a';
const PAD_L = 70, PAD_T = 15, PAD_R = 12, PAD_B = 40;

function addCanvas(left, top, w, h) {
  const c = document.createElement('canvas');
  c.width = Math.round(w); c.height = Math.round(h);
  c.style.left = left + 'px'; c.style.top = top + 'px';
  document.body.appendChild(c);
  return c;
}

function drawPanel(p) {
  const [l, t, r, b] = p.box;
  const cv = addCanvas(l - PAD_L, t - PAD_T, r - l + PAD_L + PAD_R, b - t + PAD_T + PAD_B);
  const xr = [-.076, .076];
  const xVals = p.xTicks || xTicks;
  const setTicks = vals => s => { s.ticks = vals.map(v => ({ value:v })); };
  new Chart(cv, {
    type: 'scatter',
    data: { datasets: buildLayers(p) },
    options: {
      panel: p,
      responsive: false, animation: false, events: [],
      layout: { padding: { top:PAD_T, right:PAD_R, left:0, bottom:0 } },
      plugins: { legend:{ display:false }, tooltip:{ enabled:false }, title:{ display:false } },
      scales: {
        x: { type:'linear', position:'bottom', min:xr[0], max:xr[1],
          afterBuildTicks:setTicks(xVals), afterFit:s => { s.height = PAD_B; },
          border:{ color:axisGray, width:2 },
          grid:{ drawOnChartArea:false, tickLength:-9, color:axisGray },
          ticks:{ padding:15, autoSkip:false, maxRotation:0, color:'#222', font:{ family:'Liberation Serif', size:p.font },
            callback:v => v.toFixed(p.xFmt || 2) } },
        y: { type:'linear', position:'left', min:p.yr[0], max:p.yr[1],
          afterBuildTicks:setTicks(p.yTicks), afterFit:s => { s.width = PAD_L; },
          border:{ color:axisGray, width:2 },
          grid:{ drawOnChartArea:false, tickLength:-6, color:axisGray },
          ticks:{ padding:9, autoSkip:false, color:'#222', font:{ family:'Liberation Serif', size:p.yFont || p.font },
            callback:v => v.toFixed(2) } },
        x2: { type:'linear', position:'top', min:xr[0], max:xr[1], afterFit:s => { s.height = 0; },
          border:{ color:axisGray, width:2 }, grid:{ drawOnChartArea:false, drawTicks:false }, ticks:{ display:false } },
        y2: { type:'linear', position:'right', min:p.yr[0], max:p.yr[1],
          afterBuildTicks:setTicks(p.yTicks), afterFit:s => { s.width = 0; },
          border:{ color:axisGray, width:2 }, grid:{ drawOnChartArea:false, tickLength:-9, color:axisGray }, ticks:{ display:false } }
      }
    },
    plugins: [contourLabels]
  });
}

function drawBar(p) {
  const [l, r, t, b] = p.bar;
  const roomR = 72, roomV = 16;
  const cv = addCanvas(l, t - roomV, r - l + roomR, b - t + 2 * roomV);
  const lv = p.levels;
  const datasets = [];
  for (let i = 0; i < lv.length - 1; i++) {
    const isLine = p.barLines.some(v => Math.abs(v - lv[i + 1]) < 1e-6);
    datasets.push({
      data: [[lv[i], lv[i + 1]]],
      backgroundColor: rampColor(p.ramp, (lv[i] + lv[i + 1]) / 2 / p.vmax),
      borderColor: isLine ? '#2a2a1a' : 'rgba(235,235,235,.35)',
      borderWidth: { top: isLine ? 2 : 1, bottom:0, left:0, right:0 },
      borderSkipped: false,
      barPercentage: 1, categoryPercentage: 1
    });
  }
  new Chart(cv, {
    type: 'bar',
    data: { labels: ['v'], datasets },
    options: {
      responsive: false, animation: false, events: [],
      layout: { padding: { top:roomV, bottom:roomV } },
      plugins: { legend:{ display:false }, tooltip:{ enabled:false } },
      scales: {
        x: { stacked:true, display:false },
        y: { type:'linear', position:'right', min:lv[0], max:lv[lv.length - 1],
          afterBuildTicks:s => { s.ticks = p.barTicks.map(v => ({ value:v })); },
          afterFit:s => { s.width = roomR; },
          border:{ display:false }, grid:{ display:false, drawTicks:false },
          ticks:{ padding:5, autoSkip:false, color:'#222', font:{ family:'Liberation Serif', size:p.barFont }, callback:v => v.toFixed(2) } }
      }
    }
  });
}

function addText(html, left, top, size, extra) {
  const d = document.createElement('div');
  d.className = 'txt';
  d.innerHTML = html;
  d.style.left = left + 'px'; d.style.top = top + 'px'; d.style.fontSize = size + 'px';
  if (extra) d.style.transform = extra;
  document.body.appendChild(d);
}

panels.forEach(p => { drawPanel(p); drawBar(p); });
velocityTitles.forEach(([x, y, s]) => addText('Velocity/(m·s<sup style="font-size:.6em;line-height:0">-1</sup>)', x, y - s / 2, s));
addText('P4', 9, 291, 60);
addText('P5', 9, 948, 60);
captions.forEach(([k, rest, cx]) => addText(`(<b>${k}</b>)${rest}`, cx, 1318, 62, 'translateX(-50%)'));
</script>
</body>
</html>
